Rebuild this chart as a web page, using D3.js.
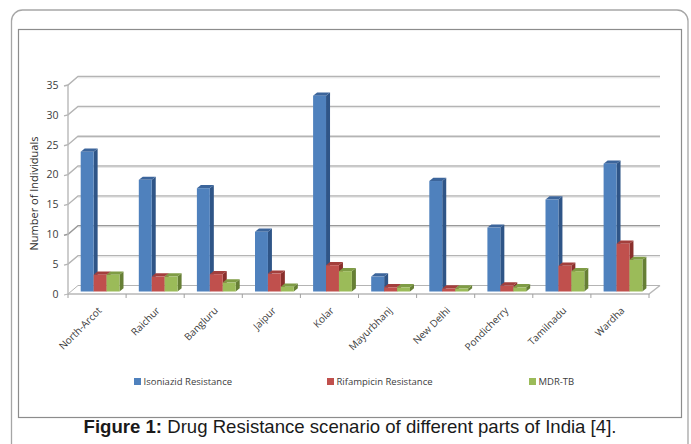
<!DOCTYPE html>
<html><head><meta charset="utf-8">
<script src="https://cdn.jsdelivr.net/npm/d3@7"></script>
<style>html,body{margin:0;padding:0;background:#fff}svg{display:block}</style>
</head><body><svg id="c" width="691" height="444"></svg>
<script>
const categories=["North-Arcot","Raichur","Bangluru","Jaipur","Kolar","Mayurbhanj","New Delhi","Pondicherry","Tamilnadu","Wardha"];
const isoniazid=[23.4,18.7,17.3,10,32.8,2.5,18.5,10.7,15.4,21.4];
const rifampicin=[2.8,2.5,2.9,3,4.4,0.7,0.5,1,4.3,8];
const mdrTb=[2.8,2.5,1.5,0.8,3.4,0.7,0.5,0.7,3.4,5.3];
const seriesNames=["Isoniazid Resistance","Rifampicin Resistance","MDR-TB"];
const seriesColors=[["#4f81bd","#2f5587","#3c659b"],["#c0504d","#8a2f2c","#a33f3c"],["#9bbb59","#667f35","#7f9c45"]];
const yTicks=[0,5,10,15,20,25,30,35];

const svg=d3.select("#c");
const font="'Open Sans', sans-serif";
// frames
svg.append("path").attr("d","M11.5,450V21a11,11 0 0 1 11,-11H677a11,11 0 0 1 11,11V450").attr("fill","none").attr("stroke","#a6a6a6").attr("stroke-width",1.3);
svg.append("rect").attr("x",18.5).attr("y",29.5).attr("width",663).attr("height",388).attr("fill","#fff").attr("stroke","#8c8c8c").attr("stroke-width",1.2);

const x=d3.scaleBand().domain(categories).range([68,649]);
const y=d3.scaleLinear().domain([0,35]).range([294,85]);
const yBar=d3.scaleLinear().domain([0,35]).range([291.5,82.5]);
const sub=d3.scaleBand().domain(d3.range(3)).range([12.7,51.5]);
const wallDx=10,wallDy=-8.5,xRight=649;

// wall gridlines
const grid=svg.append("g").attr("fill","none");
yTicks.forEach(t=>{
  const yy=y(t);
  grid.append("path").attr("d",`M${68-4},${yy+1}L68,${yy}L${68+wallDx},${yy+wallDy}H${xRight+wallDx+1}`)
    .attr("stroke",t===10?"#999":"#b4b4b4").attr("stroke-width",t===0?1:1.4);
  if(t>0)grid.append("path").attr("d",`M${68+wallDx},${yy+wallDy+1.3}H${xRight+wallDx+1}`).attr("stroke","#e4e4e4").attr("stroke-width",1);
});
// floor and axes
grid.append("path").attr("d",`M68,${y(0)}V${y(35)}`).attr("stroke","#b8b8b8").attr("stroke-width",1.4);
grid.append("path").attr("d",`M68,${y(0)}H${xRight}L${xRight+wallDx+1},${y(0)+wallDy}`).attr("stroke","#b8b8b8").attr("stroke-width",1.4);
d3.range(categories.length+1).forEach(i=>{
  const px=68+i*x.step();
  grid.append("path").attr("d",`M${px},${y(0)}v4`).attr("stroke","#a0a0a0").attr("stroke-width",1);
});

// y labels
const yAxis=svg.append("g").attr("font-family",font).attr("font-size",10.5).attr("fill","#3c3c3c");
yTicks.forEach(t=>yAxis.append("text").attr("x",58.5).attr("y",y(t)+3.8).attr("text-anchor","end").text(t));
svg.append("text").attr("transform","translate(38,193.5) rotate(-90)").attr("text-anchor","middle")
  .attr("font-family",font).attr("font-size",11).attr("fill","#2c2c2c").text("Number of Individuals");

// bars
const dx=4,dy=-3.2;
const series=[isoniazid,rifampicin,mdrTb];
categories.forEach((c,ci)=>{
  const g=svg.append("g");
  series.forEach((vals,si)=>{
    const w=sub.bandwidth(),l=x(c)+sub(si),t=yBar(vals[ci]),b=yBar(0),col=seriesColors[si];
    g.append("path").attr("d",`M${l+w},${t}l${dx},${dy}V${b+dy}l${-dx},${-dy}Z`).attr("fill",col[1]);
    g.append("path").attr("d",`M${l},${t}l${dx},${dy}h${w}l${-dx},${-dy}Z`).attr("fill",col[2]);
    g.append("rect").attr("x",l).attr("y",t).attr("width",w).attr("height",b-t).attr("fill",col[0]);
  });
});

// category labels
const cl=svg.append("g").attr("font-family",font).attr("font-size",10).attr("fill","#3c3c3c");
categories.forEach(c=>{
  const px=x(c)+x.bandwidth()/2+1;
  cl.append("text").attr("transform",`translate(${px},307) rotate(-45)`).attr("text-anchor","end").attr("dy","0.6em").text(c);
});

// legend
const legendX=[134,327,529],legendSwatch=7;
seriesNames.forEach((n,i)=>{
  svg.append("rect").attr("x",legendX[i]).attr("y",378).attr("width",legendSwatch).attr("height",legendSwatch).attr("fill",seriesColors[i][0]);
  svg.append("text").attr("x",legendX[i]+9.5).attr("y",385).attr("font-family",font).attr("font-size",9.5).attr("fill","#3c3c3c").text(n);
});

// caption
const cap=svg.append("text").attr("x",350).attr("y",433).attr("text-anchor","middle").attr("font-family","'Liberation Sans',Arial,sans-serif").attr("font-size",18.6).attr("fill","#1a1a1a");
cap.append("tspan").attr("font-weight","bold").text("Figure 1:");
cap.append("tspan").text(" Drug Resistance scenario of different parts of India [4].");
</script></body></html>
